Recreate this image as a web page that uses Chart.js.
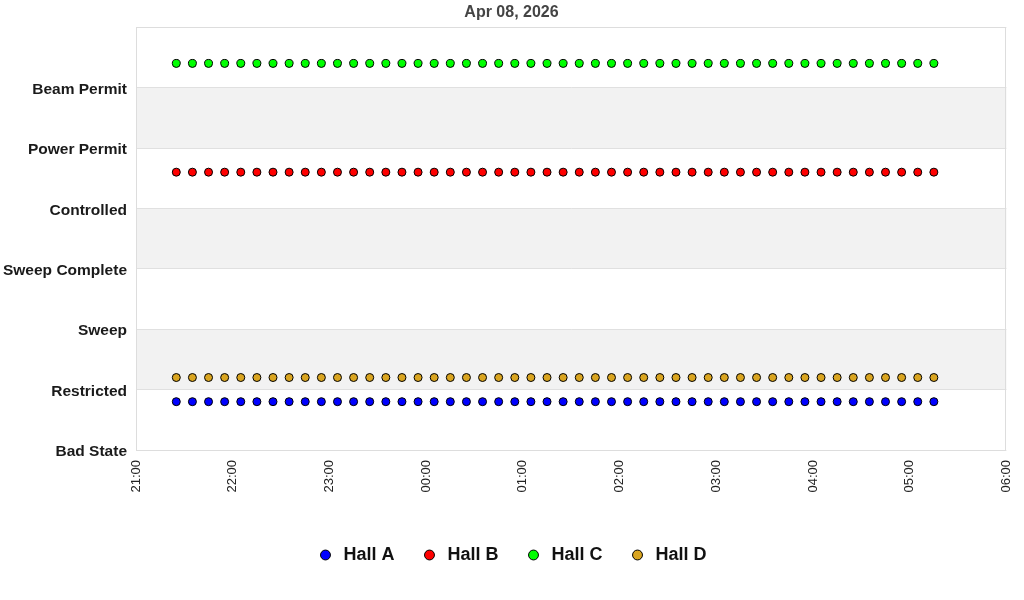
<!DOCTYPE html>
<html>
<head>
<meta charset="utf-8">
<title>Hall Status</title>
<script src="https://cdn.jsdelivr.net/npm/chart.js@4.4.1/dist/chart.umd.min.js"></script>
<style>
  html, body { margin: 0; padding: 0; background: #fff; }
  #wrap { width: 1024px; height: 600px; }
</style>
</head>
<body>
<div id="wrap"><canvas id="status-chart"></canvas></div>
<script>
// Status levels shown on the y axis (value 0 = Bad State ... 6 = Beam Permit)
const stateLabels = ["Bad State", "Restricted", "Sweep", "Sweep Complete", "Controlled", "Power Permit", "Beam Permit"];

// Hour ticks along the x axis (21:00 .. 06:00)
const hourLabels = ["21:00", "22:00", "23:00", "00:00", "01:00", "02:00", "03:00", "04:00", "05:00", "06:00"];

// Sample times (every 10 minutes)
const sampleTimes = [
    "21:25", "21:35", "21:45", "21:55", "22:05", "22:15", "22:25", "22:35", "22:45", "22:55",
    "23:05", "23:15", "23:25", "23:35", "23:45", "23:55", "00:05", "00:15", "00:25", "00:35",
    "00:45", "00:55", "01:05", "01:15", "01:25", "01:35", "01:45", "01:55", "02:05", "02:15",
    "02:25", "02:35", "02:45", "02:55", "03:05", "03:15", "03:25", "03:35", "03:45", "03:55",
    "04:05", "04:15", "04:25", "04:35", "04:45", "04:55", "05:05", "05:15"
];

// Status per hall (offset slightly so the halls don't overlap)
const hallA = [
    0.8, 0.8, 0.8, 0.8, 0.8, 0.8, 0.8, 0.8, 0.8, 0.8, 0.8, 0.8, 0.8, 0.8, 0.8, 0.8,
    0.8, 0.8, 0.8, 0.8, 0.8, 0.8, 0.8, 0.8, 0.8, 0.8, 0.8, 0.8, 0.8, 0.8, 0.8, 0.8,
    0.8, 0.8, 0.8, 0.8, 0.8, 0.8, 0.8, 0.8, 0.8, 0.8, 0.8, 0.8, 0.8, 0.8, 0.8, 0.8
];
const hallB = [
    4.6, 4.6, 4.6, 4.6, 4.6, 4.6, 4.6, 4.6, 4.6, 4.6, 4.6, 4.6, 4.6, 4.6, 4.6, 4.6,
    4.6, 4.6, 4.6, 4.6, 4.6, 4.6, 4.6, 4.6, 4.6, 4.6, 4.6, 4.6, 4.6, 4.6, 4.6, 4.6,
    4.6, 4.6, 4.6, 4.6, 4.6, 4.6, 4.6, 4.6, 4.6, 4.6, 4.6, 4.6, 4.6, 4.6, 4.6, 4.6
];
const hallC = [
    6.4, 6.4, 6.4, 6.4, 6.4, 6.4, 6.4, 6.4, 6.4, 6.4, 6.4, 6.4, 6.4, 6.4, 6.4, 6.4,
    6.4, 6.4, 6.4, 6.4, 6.4, 6.4, 6.4, 6.4, 6.4, 6.4, 6.4, 6.4, 6.4, 6.4, 6.4, 6.4,
    6.4, 6.4, 6.4, 6.4, 6.4, 6.4, 6.4, 6.4, 6.4, 6.4, 6.4, 6.4, 6.4, 6.4, 6.4, 6.4
];
const hallD = [
    1.2, 1.2, 1.2, 1.2, 1.2, 1.2, 1.2, 1.2, 1.2, 1.2, 1.2, 1.2, 1.2, 1.2, 1.2, 1.2,
    1.2, 1.2, 1.2, 1.2, 1.2, 1.2, 1.2, 1.2, 1.2, 1.2, 1.2, 1.2, 1.2, 1.2, 1.2, 1.2,
    1.2, 1.2, 1.2, 1.2, 1.2, 1.2, 1.2, 1.2, 1.2, 1.2, 1.2, 1.2, 1.2, 1.2, 1.2, 1.2
];

const chartTitle = "Apr 08, 2026";

// minutes since 21:00 for a "HH:MM" string
function toMinutes(hhmm) {
    let [h, m] = hhmm.split(":").map(Number);
    if (h < 21) h += 24;
    return (h - 21) * 60 + m;
}

function toPoints(values) {
    return values.map((v, i) => ({ x: toMinutes(sampleTimes[i]), y: v }));
}

// grey bands between every other status line
const bandPlugin = {
    id: "bands",
    // let the long y labels run into the left padding instead of being clipped
    afterLayout(chart) {
        chart.scales.y.left = 0;
    },
    beforeDraw(chart) {
        const { ctx, chartArea, scales } = chart;
        ctx.save();
        ctx.fillStyle = "#f2f2f2";
        [1, 3, 5].forEach((lo) => {
            const yTop = scales.y.getPixelForValue(lo + 1);
            const yBot = scales.y.getPixelForValue(lo);
            ctx.fillRect(chartArea.left, yTop, chartArea.right - chartArea.left, yBot - yTop);
        });
        ctx.restore();
    }
};

// thin frame round the plot
const framePlugin = {
    id: "frame",
    beforeDatasetsDraw(chart) {
        const { ctx, chartArea } = chart;
        ctx.save();
        ctx.strokeStyle = "#dddddd";
        ctx.lineWidth = 1;
        ctx.strokeRect(Math.round(chartArea.left) + 0.5, Math.round(chartArea.top) + 0.5,
            Math.round(chartArea.right - chartArea.left) - 1, Math.round(chartArea.bottom - chartArea.top));
        ctx.restore();
    }
};

function hallDataset(label, values, color) {
    return {
        label: label,
        data: toPoints(values),
        showLine: false,
        pointStyle: "circle",
        pointRadius: 4,
        pointHoverRadius: 4,
        pointBackgroundColor: color,
        pointBorderColor: "#000",
        pointBorderWidth: 1,
        backgroundColor: color,
        borderColor: "#000",
    };
}

const ctx = document.getElementById("status-chart").getContext("2d");
const statusChart = new Chart(ctx, {
    type: "scatter",
    data: {
        datasets: [
            hallDataset("Hall A", hallA, "#0000ff"),
            hallDataset("Hall B", hallB, "#ff0000"),
            hallDataset("Hall C", hallC, "#00ff00"),
            hallDataset("Hall D", hallD, "#daa520"),
        ],
    },
    options: {
        responsive: true,
        maintainAspectRatio: false,
        animation: false,
        layout: { padding: { left: 16, right: 17, top: 0, bottom: 26 } },
        scales: {
            x: {
                type: "linear",
                min: 0,
                max: (hourLabels.length - 1) * 60,
                afterBuildTicks: (scale) => {
                    scale.ticks = hourLabels.map((_, i) => ({ value: i * 60 }));
                },
                afterFit: (scale) => { scale.height = 70; },
                ticks: {
                    autoSkip: false,
                    minRotation: 90,
                    maxRotation: 90,
                    padding: 2,
                    color: "#222",
                    font: { family: "Liberation Sans, Arial, sans-serif", size: 13 },
                    callback: (value) => hourLabels[Math.round(value / 60)],
                },
                grid: { display: false },
                border: { display: false },
            },
            y: {
                min: 0,
                max: 7,
                afterBuildTicks: (scale) => {
                    scale.ticks = [0, 1, 2, 3, 4, 5, 6, 7].map((v) => ({ value: v }));
                },
                afterFit: (scale) => { scale.width = 120; },
                ticks: {
                    padding: 9,
                    labelOffset: 2,
                    color: "#1a1a1a",
                    font: { family: "Liberation Sans, Arial, sans-serif", size: 15.5, weight: "bold" },
                    callback: (value) => stateLabels[value] || "",
                },
                grid: { color: "#e0e0e0", drawTicks: false },
                border: { display: false },
            },
        },
        plugins: {
            title: {
                display: true,
                text: chartTitle,
                color: "#444",
                font: { family: "Liberation Sans, Arial, sans-serif", size: 16, weight: "bold" },
                padding: { top: 3, bottom: 5 },
            },
            legend: {
                position: "bottom",
                labels: {
                    usePointStyle: true,
                    boxWidth: 18,
                    boxHeight: 7,
                    padding: 26,
                    color: "#111",
                    font: { family: "Liberation Sans, Arial, sans-serif", size: 18, weight: "bold" },
                },
            },
            tooltip: { enabled: false },
        },
    },
    plugins: [bandPlugin, framePlugin],
});
</script>
</body>
</html>
